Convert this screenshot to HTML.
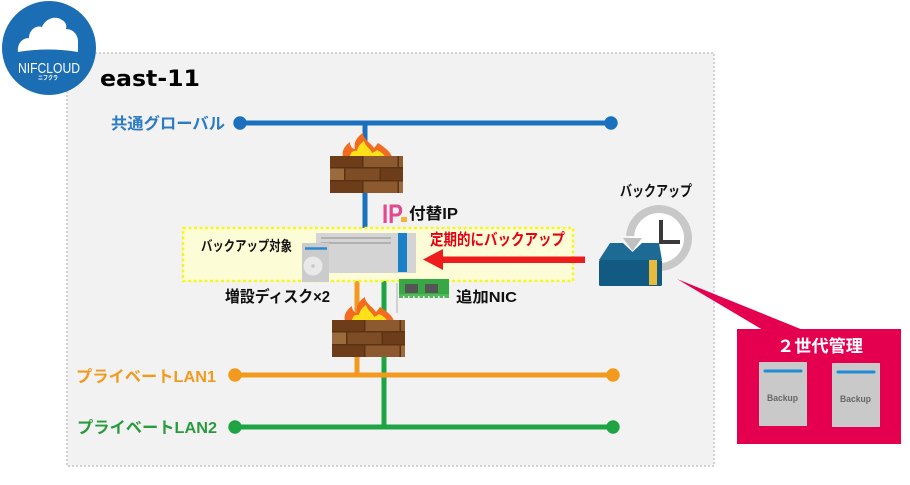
<!DOCTYPE html>
<html>
<head>
<meta charset="utf-8">
<style>
  html,body{margin:0;padding:0;background:#ffffff;}
  body{width:910px;height:485px;overflow:hidden;}
  svg{display:block;}
  text{font-family:"Liberation Sans","Noto Sans CJK JP",sans-serif;font-weight:bold;}
</style>
</head>
<body>
<svg width="910" height="485" viewBox="0 0 910 485" xmlns="http://www.w3.org/2000/svg">
  <!-- region -->
  <rect x="67" y="53" width="647" height="413" fill="#f2f2f2" stroke="#d2d2d2" stroke-width="2" stroke-dasharray="2 2"/>

  <!-- logo -->
  <circle cx="49" cy="48" r="47" fill="#1b6db4"/>
  <path d="M18,52 C17,44 22,38 29,38 C29,30 36,25 42,27 C45,19 55,15 62,20 C66,22 67,26 66,29 C74,29 79,36 78,44 L78,52 Q48,47 18,52 Z" fill="#ffffff"/>
  <text x="18" y="73" font-size="15" fill="#ffffff" font-weight="normal" textLength="62" lengthAdjust="spacingAndGlyphs" style="font-weight:normal">NIFCLOUD</text>
  <text x="38" y="80" font-size="6" fill="#ffffff" textLength="20" lengthAdjust="spacingAndGlyphs">ニフクラ</text>

  <!-- title -->
  <text x="100" y="86" font-size="22" fill="#000000" textLength="100" lengthAdjust="spacingAndGlyphs" style="font-family:'DejaVu Sans','Liberation Sans',sans-serif">east-11</text>

  <!-- vertical connectors -->
  <line x1="365" y1="123" x2="365" y2="236" stroke="#1a70bd" stroke-width="5"/>
  <line x1="357" y1="270" x2="357" y2="375" stroke="#f39a1e" stroke-width="5"/>
  <line x1="384" y1="270" x2="384" y2="427" stroke="#1fa443" stroke-width="5"/>

  <!-- global line -->
  <line x1="240" y1="123" x2="611" y2="123" stroke="#1a70bd" stroke-width="5"/>
  <circle cx="240" cy="123" r="6.7" fill="#1a70bd"/>
  <circle cx="611" cy="123" r="6.7" fill="#1a70bd"/>
  <text x="111" y="129" font-size="16" fill="#2b7ac4" textLength="114" lengthAdjust="spacingAndGlyphs">共通グローバル</text>

  <!-- LAN1 -->
  <line x1="235" y1="375" x2="613" y2="375" stroke="#f39a1e" stroke-width="5"/>
  <circle cx="235" cy="375" r="6.7" fill="#f39a1e"/>
  <circle cx="613" cy="375" r="6.7" fill="#f39a1e"/>
  <text x="76" y="382" font-size="16" fill="#f39a1e" textLength="140" lengthAdjust="spacingAndGlyphs">プライベートLAN1</text>

  <!-- LAN2 -->
  <line x1="235" y1="427" x2="613" y2="427" stroke="#1fa443" stroke-width="5"/>
  <circle cx="235" cy="427" r="6.7" fill="#1fa443"/>
  <circle cx="613" cy="427" r="6.7" fill="#1fa443"/>
  <text x="77" y="433" font-size="16" fill="#2a9a3e" textLength="140" lengthAdjust="spacingAndGlyphs">プライベートLAN2</text>

  <!-- firewall 1 -->
  <g transform="translate(330,156)">
    <path d="M13,1 C11,-6 16,-11 20,-14 C20,-9 23,-7 25,-7 C23,-14 28,-20 33,-23 C33,-17 40,-14 44,-8 C46,-10 47,-12 48,-13 C54,-9 60,-5 62,1 Z" fill="#f26b21"/>
    <path d="M20,1 C20,-4 24,-6 27,-5 C28,-10 31,-13 34,-15 C35,-10 41,-7 42,-3 C44,-4 46,-5 47,-6 C51,-4 54,-2 55,1 Z" fill="#ffe11a"/>
    <rect x="0" y="0" width="73" height="37" fill="#5a3214"/>
    <rect x="0" y="0" width="32" height="11" fill="#6d3d1a"/>
    <rect x="33.5" y="0" width="34" height="11" fill="#8c5a2e"/>
    <rect x="69" y="0" width="4" height="11" fill="#8c5a2e"/>
    <rect x="0" y="12.5" width="14" height="11.5" fill="#9b6a3d"/>
    <rect x="15.5" y="12.5" width="34" height="11.5" fill="#7f4d25"/>
    <rect x="51" y="12.5" width="22" height="11.5" fill="#6d3d1a"/>
    <rect x="0" y="25.5" width="32" height="11.5" fill="#6d3d1a"/>
    <rect x="33.5" y="25.5" width="34" height="11.5" fill="#8c5a2e"/>
    <rect x="69" y="25.5" width="4" height="11.5" fill="#9b6a3d"/>
  </g>

  <!-- IP icon -->
  <text x="382" y="223" font-size="27" fill="#e4488e" textLength="21" lengthAdjust="spacingAndGlyphs">IP</text>
  <rect x="401" y="217" width="6" height="5" fill="#f5b335"/>
  <text x="409" y="219" font-size="16" fill="#111" textLength="49" lengthAdjust="spacingAndGlyphs">付替IP</text>

  <!-- backup target box -->
  <rect x="183" y="228" width="390" height="53" fill="#fcfcd6" stroke="#f7f720" stroke-width="2.5" stroke-dasharray="3 2.5"/>
  <text x="201" y="251" font-size="14" fill="#111" textLength="91" lengthAdjust="spacingAndGlyphs">バックアップ対象</text>

  <!-- server -->
  <rect x="316" y="233" width="100" height="40" fill="#d4d4d4"/>
  <line x1="321" y1="238" x2="391" y2="238" stroke="#a5a5a5" stroke-width="1.5"/>
  <line x1="321" y1="243" x2="391" y2="243" stroke="#a5a5a5" stroke-width="1.5"/>
  <rect x="398" y="233" width="9" height="39" fill="#1a80c8"/>
  <rect x="302" y="243" width="27" height="39" fill="#cbcbcb"/>
  <line x1="305" y1="248.5" x2="327" y2="248.5" stroke="#2a8ad0" stroke-width="2.5"/>
  <circle cx="313" cy="266" r="9.5" fill="#e9e9e9"/>
  <circle cx="313" cy="266" r="1.8" fill="#c8c8c8"/>

  <!-- red arrow -->
  <rect x="440" y="256.5" width="145" height="6.5" fill="#ee1c1c"/>
  <polygon points="423,259.5 443,249 443,270" fill="#ee1c1c"/>
  <text x="430" y="245" font-size="16" fill="#e60012" textLength="135" lengthAdjust="spacingAndGlyphs">定期的にバックアップ</text>

  <!-- NIC -->
  <line x1="397" y1="283" x2="397" y2="313" stroke="#c4c4c4" stroke-width="1.5"/>
  <rect x="399" y="279" width="50" height="16" fill="#37a844"/>
  <rect x="399" y="294" width="50" height="4" fill="#52b85a"/>
  <g fill="#f2f2f2">
    <rect x="403" y="296" width="1.5" height="2"/><rect x="408" y="296" width="1.5" height="2"/>
    <rect x="413" y="296" width="1.5" height="2"/><rect x="418" y="296" width="1.5" height="2"/>
    <rect x="423" y="296" width="1.5" height="2"/><rect x="428" y="296" width="1.5" height="2"/>
    <rect x="433" y="296" width="1.5" height="2"/><rect x="438" y="296" width="1.5" height="2"/>
    <rect x="443" y="296" width="1.5" height="2"/>
  </g>
  <rect x="405" y="284" width="13" height="9" fill="#555555"/>
  <rect x="425" y="284" width="13" height="9" fill="#555555"/>
  <text x="456" y="302" font-size="15" fill="#111" textLength="61" lengthAdjust="spacingAndGlyphs">追加NIC</text>
  <text x="225" y="302" font-size="16" fill="#111" textLength="105" lengthAdjust="spacingAndGlyphs">増設ディスク×2</text>

  <!-- firewall 2 -->
  <g transform="translate(332,320)">
    <path d="M13,1 C11,-6 16,-11 20,-14 C20,-9 23,-7 25,-7 C23,-14 28,-20 33,-23 C33,-17 40,-14 44,-8 C46,-10 47,-12 48,-13 C54,-9 60,-5 62,1 Z" fill="#f26b21"/>
    <path d="M20,1 C20,-4 24,-6 27,-5 C28,-10 31,-13 34,-15 C35,-10 41,-7 42,-3 C44,-4 46,-5 47,-6 C51,-4 54,-2 55,1 Z" fill="#ffe11a"/>
    <rect x="0" y="0" width="73" height="37" fill="#5a3214"/>
    <rect x="0" y="0" width="32" height="11" fill="#6d3d1a"/>
    <rect x="33.5" y="0" width="34" height="11" fill="#8c5a2e"/>
    <rect x="69" y="0" width="4" height="11" fill="#8c5a2e"/>
    <rect x="0" y="12.5" width="14" height="11.5" fill="#9b6a3d"/>
    <rect x="15.5" y="12.5" width="34" height="11.5" fill="#7f4d25"/>
    <rect x="51" y="12.5" width="22" height="11.5" fill="#6d3d1a"/>
    <rect x="0" y="25.5" width="32" height="11.5" fill="#6d3d1a"/>
    <rect x="33.5" y="25.5" width="34" height="11.5" fill="#8c5a2e"/>
    <rect x="69" y="25.5" width="4" height="11.5" fill="#9b6a3d"/>
  </g>

  <!-- backup icon -->
  <text x="620" y="196" font-size="15" fill="#111" textLength="72" lengthAdjust="spacingAndGlyphs">バックアップ</text>
  <circle cx="659" cy="238" r="29" fill="#ffffff"/>
  <path d="M630.1,236 A29,29 0 1 1 649.1,265.3" fill="none" stroke="#c8c8c8" stroke-width="8"/>
  <polygon points="623,238 642,238 632.5,251" fill="#c0c0c0"/>
  <path d="M661,220 L661,242 L680,242" fill="none" stroke="#3a3a3a" stroke-width="4"/>
  <path d="M610,243 L623,243 L632.5,252 L642,243 L659,243 L662,260 L599,260 Z" fill="#1d6b94"/>
  <rect x="599" y="260" width="63" height="26" rx="1.5" fill="#135a82"/>
  <rect x="649" y="260" width="8" height="25" fill="#e8bb3c"/>

  <!-- callout -->
  <polygon points="677,279 763,330 803,330" fill="#e4004f"/>
  <rect x="737" y="329" width="164" height="115" fill="#e4004f"/>
  <text x="777" y="352" font-size="17" fill="#ffffff" textLength="86" lengthAdjust="spacingAndGlyphs">２世代管理</text>
  <rect x="759" y="362" width="48" height="64" fill="#c9c9c9"/>
  <line x1="765" y1="371" x2="801" y2="371" stroke="#1f8ad6" stroke-width="3" stroke-linecap="round"/>
  <text x="767" y="401" font-size="9" fill="#666666" textLength="31" lengthAdjust="spacingAndGlyphs">Backup</text>
  <rect x="832" y="363" width="48" height="64" fill="#c9c9c9"/>
  <line x1="838" y1="372" x2="874" y2="372" stroke="#1f8ad6" stroke-width="3" stroke-linecap="round"/>
  <text x="840" y="402" font-size="9" fill="#666666" textLength="31" lengthAdjust="spacingAndGlyphs">Backup</text>
</svg>
</body>
</html>
